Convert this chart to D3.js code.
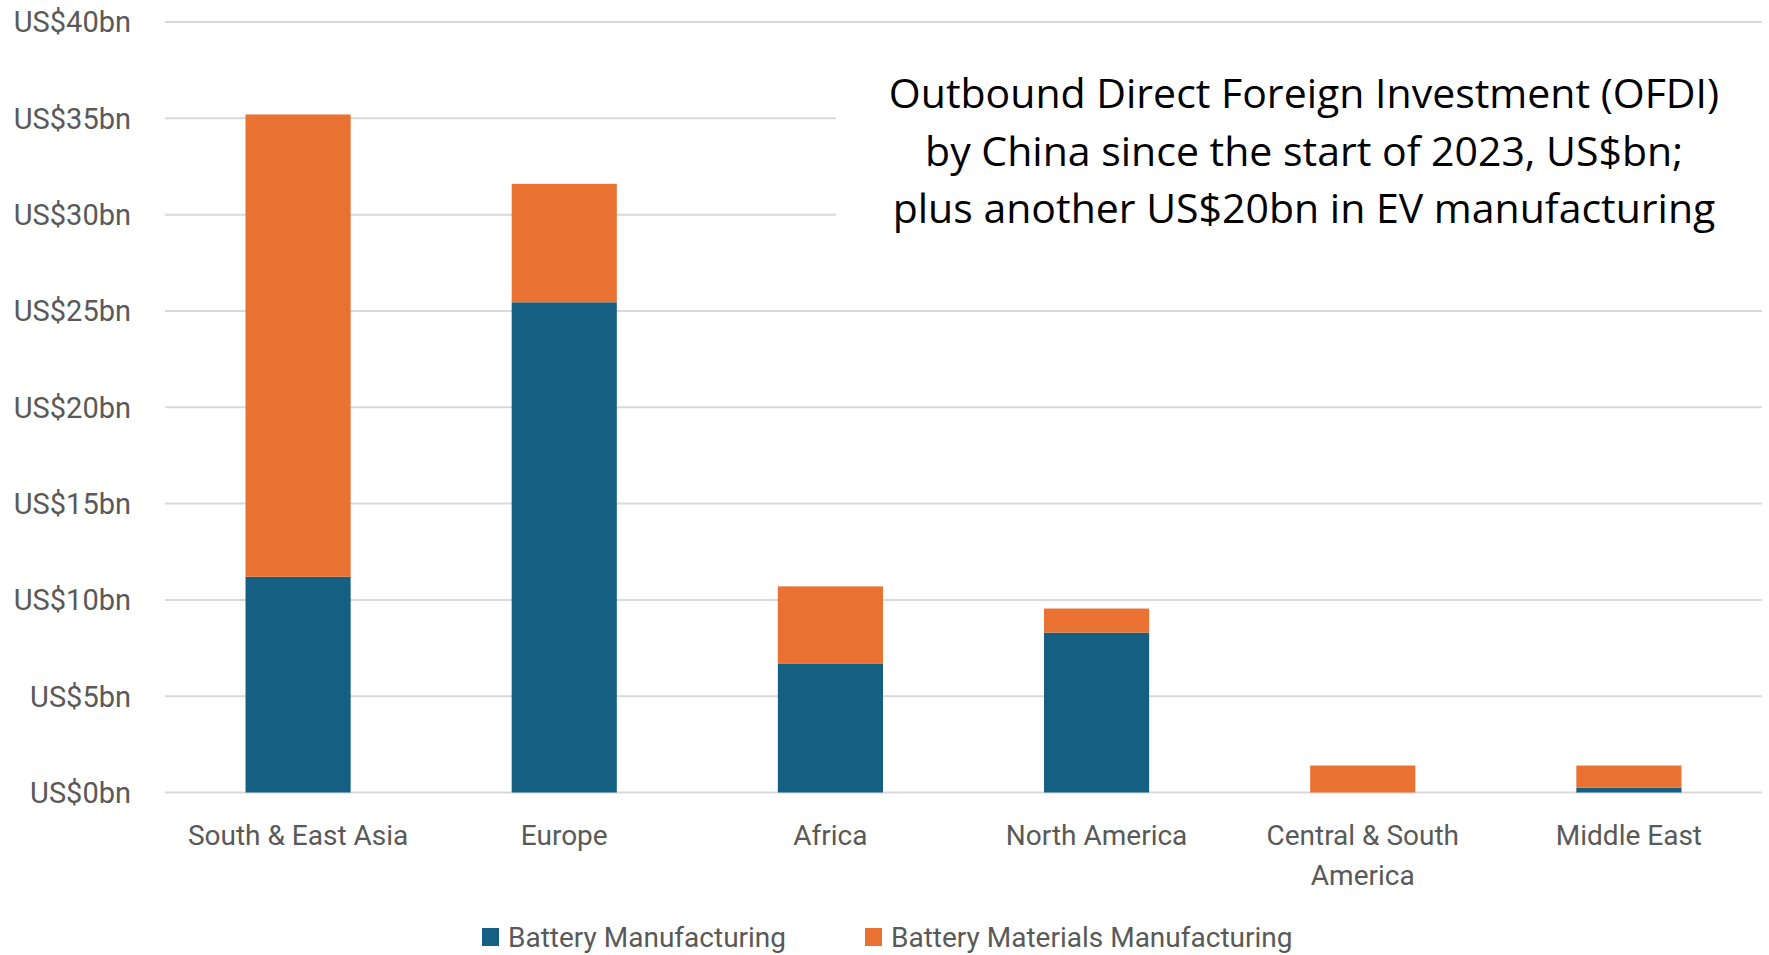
<!DOCTYPE html>
<html>
<head>
<meta charset="utf-8">
<script src="https://cdn.jsdelivr.net/npm/d3@7"></script>
<style>
  body { margin: 0; background: #FFFFFF; }
</style>
</head>
<body>
<svg></svg>
<script>
const width = 1769
const height = 955

// Data
const categories = ["South & East Asia", "Europe", "Africa", "North America", "Central & South America", "Middle East"]
const batteryManufacturing = [11.2, 25.45, 6.7, 8.3, 0, 0.25]
const materialsManufacturing = [24.0, 6.15, 4.0, 1.25, 1.4, 1.15]
const seriesNames = ["Battery Manufacturing", "Battery Materials Manufacturing"]
const yTicks = [0, 5, 10, 15, 20, 25, 30, 35, 40]
const titleLines = [
    "Outbound Direct Foreign Investment (OFDI)",
    "by China since the start of 2023, US$bn;",
    "plus another US$20bn in EV manufacturing"
]

// Style configuration
const seriesColors = ["#156082", "#E97132"]
const gridColor = "#D9D9D9"
const textColor = "#595959"
const labelFont = "Roboto, 'Noto Sans', sans-serif"

const plotLeft = 165
const plotRight = 1762
const plotTop = 22
const plotBottom = 792.5

const rows = categories.map((name, i) => ({
    name: name,
    battery: batteryManufacturing[i],
    materials: materialsManufacturing[i]
}))

const stack = d3.stack().keys(["battery", "materials"])
const stacked = stack(rows)

const x = d3.scaleBand()
    .domain(categories)
    .range([plotLeft, plotRight])
    .paddingInner(0.605)
    .paddingOuter(0.3025)

const y = d3.scaleLinear()
    .domain([0, 40])
    .range([plotBottom, plotTop])

const svg = d3.select("svg")
    .attr("width", width)
    .attr("height", height)
    .style("display", "block")

// Gridlines
svg.append("g")
    .selectAll("line")
    .data(yTicks)
    .enter()
    .append("line")
    .attr("x1", plotLeft)
    .attr("x2", plotRight)
    .attr("y1", d => y(d))
    .attr("y2", d => y(d))
    .attr("stroke", gridColor)
    .attr("stroke-width", 2)

// Y axis labels
const yAxis = d3.axisLeft(y)
    .tickValues(yTicks)
    .tickSize(0)
    .tickPadding(0)
    .tickFormat(d => `US$${d}bn`)

const yAxisGroup = svg.append("g")
    .attr("transform", "translate(131,0)")
    .call(yAxis)
yAxisGroup.select(".domain").remove()
yAxisGroup.selectAll("text")
    .attr("font-family", labelFont)
    .attr("font-size", 29)
    .attr("fill", textColor)
    .attr("dy", "0.34em")

// Bars
svg.append("g")
    .selectAll("g")
    .data(stacked)
    .enter()
    .append("g")
    .attr("fill", (d, i) => seriesColors[i])
    .selectAll("rect")
    .data(d => d)
    .enter()
    .append("rect")
    .attr("x", d => x(d.data.name))
    .attr("width", x.bandwidth())
    .attr("y", d => y(d[1]))
    .attr("height", d => y(d[0]) - y(d[1]))

// Category labels, wrapped to the band step
const xLabels = svg.append("g")
    .selectAll("text")
    .data(categories)
    .enter()
    .append("text")
    .attr("x", d => x(d) + x.bandwidth() / 2)
    .attr("y", 845)
    .attr("text-anchor", "middle")
    .attr("font-family", labelFont)
    .attr("font-size", 28)
    .attr("fill", textColor)

xLabels.each(function (d) {
    const text = d3.select(this)
    const words = d.split(" ")
    const maxWidth = x.step() - 10
    let line = []
    let tspan = text.append("tspan").attr("x", text.attr("x")).attr("dy", 0)
    words.forEach(word => {
        line.push(word)
        tspan.text(line.join(" "))
        if (tspan.node().getComputedTextLength() > maxWidth && line.length > 1) {
            line.pop()
            tspan.text(line.join(" "))
            line = [word]
            tspan = text.append("tspan")
                .attr("x", text.attr("x"))
                .attr("dy", 40)
                .text(word)
        }
    })
})

// Title box (white panel covers the gridlines behind it)
svg.append("rect")
    .attr("x", 836)
    .attr("y", 45)
    .attr("width", width - 836)
    .attr("height", 215)
    .attr("fill", "#FFFFFF")

const titleWidths = [848, 776, 840]
svg.append("g")
    .selectAll("text")
    .data(titleLines)
    .enter()
    .append("text")
    .attr("x", 1304)
    .attr("y", (d, i) => 108 + i * 57.5)
    .attr("text-anchor", "middle")
    .attr("font-family", "'Open Sans', 'Noto Sans', sans-serif")
    .attr("font-size", 41)
    .attr("fill", "#000000")
    .text(d => d)
    .each(function (d, i) {
        if (this.getComputedTextLength() > titleWidths[i]) {
            d3.select(this)
                .attr("textLength", titleWidths[i])
                .attr("lengthAdjust", "spacingAndGlyphs")
        }
    })

// Legend
const legendItems = [
    { name: seriesNames[0], color: seriesColors[0], x: 482 },
    { name: seriesNames[1], color: seriesColors[1], x: 865 }
]

const legend = svg.append("g")
    .selectAll("g")
    .data(legendItems)
    .enter()
    .append("g")
    .attr("transform", d => `translate(${d.x},928)`)

legend.append("rect")
    .attr("width", 17)
    .attr("height", 18)
    .attr("fill", d => d.color)

legend.append("text")
    .attr("x", 26)
    .attr("y", 19)
    .attr("font-family", labelFont)
    .attr("font-size", 28)
    .attr("fill", textColor)
    .text(d => d.name)
</script>
</body>
</html>
